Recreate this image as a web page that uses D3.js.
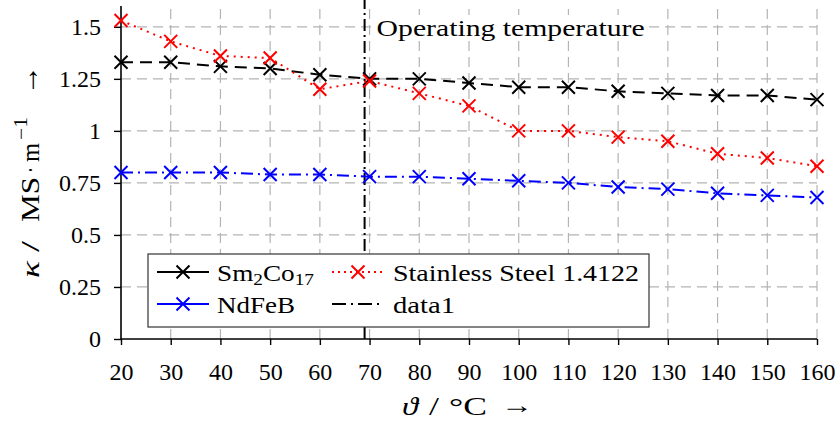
<!DOCTYPE html>
<html>
<head>
<meta charset="utf-8">
<script src="https://cdn.jsdelivr.net/npm/d3@7"></script>
<style>
  body { margin: 0; background: #fff; }
  svg text { font-family: "Liberation Serif", "DejaVu Serif", serif; fill: #000; }
</style>
</head>
<body>
<svg id="chart" width="837" height="429"></svg>
<script>
var temps = [20, 30, 40, 50, 60, 70, 80, 90, 100, 110, 120, 130, 140, 150, 160];
var smco = [1.33, 1.33, 1.31, 1.30, 1.27, 1.25, 1.25, 1.23, 1.21, 1.21, 1.19, 1.18, 1.17, 1.17, 1.15];
var steel = [1.53, 1.43, 1.36, 1.35, 1.20, 1.24, 1.18, 1.12, 1.00, 1.00, 0.97, 0.95, 0.89, 0.87, 0.83];
var ndfeb = [0.80, 0.80, 0.80, 0.79, 0.79, 0.78, 0.78, 0.77, 0.76, 0.75, 0.73, 0.72, 0.70, 0.69, 0.68];
var opTemp = 69;
var yTicks = [0, 0.25, 0.5, 0.75, 1, 1.25, 1.5];
var yTickLabels = ["0", "0.25", "0.5", "0.75", "1", "1.25", "1.5"];

var FS = 24;
var svg = d3.select("#chart");
var mLeft = 121, mRight = 817, mTop = 6, mBottom = 339;

var x = d3.scaleLinear().domain([20, 160]).range([mLeft, mRight]);
var y = d3.scaleLinear().domain([0, 1.6]).range([mBottom, mTop]);

// grid
var grid = svg.append("g").attr("stroke", "#b4b4b4").attr("stroke-width", 1.2)
  .attr("stroke-dasharray", "10,6");
grid.selectAll(".gx").data(temps.slice(1)).enter().append("line")
  .attr("x1", d => x(d)).attr("x2", d => x(d))
  .attr("y1", mBottom).attr("y2", mTop);
grid.selectAll(".gy").data(yTicks.slice(1)).enter().append("line")
  .attr("x1", mLeft).attr("x2", mRight)
  .attr("y1", d => y(d)).attr("y2", d => y(d));

// axes
var xAxis = d3.axisBottom(x).tickValues(temps).tickSize(6).tickPadding(18)
  .tickFormat(d3.format("d"));
var yAxis = d3.axisLeft(y).tickValues(yTicks).tickSize(7).tickPadding(13)
  .tickFormat((d, i) => yTickLabels[i]);

var gx = svg.append("g").attr("transform", "translate(0," + mBottom + ")").call(xAxis);
var gy = svg.append("g").attr("transform", "translate(" + mLeft + ",0)").call(yAxis);
[gx, gy].forEach(function(g) {
  g.select(".domain").attr("stroke", "#000").attr("stroke-width", 1.6);
  g.selectAll(".tick line").attr("stroke", "#000").attr("stroke-width", 1.4);
  g.selectAll(".tick text").attr("font-size", FS)
    .attr("font-family", "Liberation Serif, DejaVu Serif, serif");
});
gx.select(".domain").attr("d", "M" + mLeft + ",0H" + mRight);
gy.select(".domain").attr("d", "M0," + mBottom + "V" + mTop);

// series
var series = [
  { name: "Sm2Co17", vals: smco, color: "#000", dash: "12,7" },
  { name: "Stainless Steel 1.4122", vals: steel, color: "#ff0000", dash: "2,5" },
  { name: "NdFeB", vals: ndfeb, color: "#0000ff", dash: "12,5,2,5" }
];

var line = d3.line().x((d, i) => x(temps[i])).y(d => y(d));

function cross(g, cx, cy, color) {
  var s = 6.5;
  g.append("path")
    .attr("d", "M" + (cx - s) + "," + (cy - s) + "L" + (cx + s) + "," + (cy + s) +
      "M" + (cx - s) + "," + (cy + s) + "L" + (cx + s) + "," + (cy - s))
    .attr("stroke", color).attr("stroke-width", 2).attr("fill", "none");
}

// vertical operating temperature line
svg.append("line")
  .attr("x1", x(opTemp)).attr("x2", x(opTemp))
  .attr("y1", mBottom).attr("y2", 0)
  .attr("stroke", "#000").attr("stroke-width", 2)
  .attr("stroke-dasharray", "12,4,2,4");

series.forEach(function(s) {
  svg.append("path").datum(s.vals)
    .attr("d", line)
    .attr("fill", "none").attr("stroke", s.color).attr("stroke-width", 2)
    .attr("stroke-dasharray", s.dash);
  var mg = svg.append("g");
  s.vals.forEach(function(v, i) { cross(mg, x(temps[i]), y(v), s.color); });
});

// annotation
var ag = svg.append("g");
var annBg = ag.append("rect").attr("fill", "#fff");
var ann = ag.append("text").attr("x", x(opTemp) + 12).attr("y", 36)
  .attr("font-size", FS).attr("textLength", 268).attr("lengthAdjust", "spacingAndGlyphs")
  .text("Operating temperature");
var bb = ann.node().getBBox();
annBg.attr("x", bb.x - 3).attr("y", bb.y).attr("width", bb.width + 6).attr("height", bb.height);

// legend
var lg = svg.append("g");
lg.append("rect").attr("x", 148).attr("y", 254).attr("width", 501).attr("height", 73)
  .attr("fill", "#fff").attr("stroke", "#333").attr("stroke-width", 1.2);

var legendItems = [
  { s: series[0], lx: 157, ly: 272, tx: 217, label: "Sm", sub1: "2", mid: "Co", sub2: "17" },
  { s: series[1], lx: 332, ly: 272, tx: 393, label: "Stainless Steel 1.4122", w: 246 },
  { s: series[2], lx: 157, ly: 304, tx: 217, label: "NdFeB", w: 78 },
  { s: { color: "#000" }, lx: 332, ly: 304, tx: 393, label: "data1", w: 62, noMark: true }
];
legendItems.forEach(function(it) {
  lg.append("line").attr("x1", it.lx).attr("x2", it.lx + 52)
    .attr("y1", it.ly).attr("y2", it.ly)
    .attr("stroke", it.s.color).attr("stroke-width", 2)
    .attr("stroke-dasharray", it.noMark ? "14,5,2,5" : (it.s.dash === "2,5" ? "2,4" : null));
  if (!it.noMark) cross(lg, it.lx + 26, it.ly, it.s.color);
  var t = lg.append("text").attr("x", it.tx).attr("y", it.ly + 9).attr("font-size", FS);
  if (it.sub1) {
    t.attr("textLength", 97).attr("lengthAdjust", "spacingAndGlyphs");
    t.append("tspan").text(it.label);
    t.append("tspan").attr("font-size", 17).attr("dy", 4).text(it.sub1);
    t.append("tspan").attr("dy", -4).text(it.mid);
    t.append("tspan").attr("font-size", 17).attr("dy", 4).text(it.sub2);
  } else {
    t.attr("textLength", it.w).attr("lengthAdjust", "spacingAndGlyphs").text(it.label);
  }
});

// axis labels, built from pieces so the spacing follows the original typesetting
function piece(g, str, px, py, len, opts) {
  opts = opts || {};
  var t = g.append("text").attr("x", px).attr("y", py)
    .attr("font-size", opts.size || 26)
    .attr("font-style", opts.italic ? "italic" : null)
    .attr("font-family", opts.family || null)
    .text(str);
  if (len) t.attr("textLength", len).attr("lengthAdjust", "spacingAndGlyphs");
  return t;
}

var xl = svg.append("g");
piece(xl, "\u03d1", 402, 415, 16, { italic: true });
piece(xl, "/", 429, 415, 10);
piece(xl, "\u00b0C", 449, 415, 38);
piece(xl, "\u2192", 501, 413, 32, { family: "DejaVu Sans", size: 24 });

var yl = svg.append("g").attr("transform", "translate(39,0) rotate(-90)");
piece(yl, "\u03ba", -278, 0, 17, { italic: true });
piece(yl, "/", -252, 0, 11);
piece(yl, "MS", -222, 0, 45);
piece(yl, "\u00b7", -173, 0, 6);
piece(yl, "m", -162, 0, 19);
piece(yl, "\u22121", -140, -12, 23, { size: 18 });
piece(yl, "\u2192", -95, -1, null, { family: "DejaVu Sans", size: 30 });
</script>
</body>
</html>
